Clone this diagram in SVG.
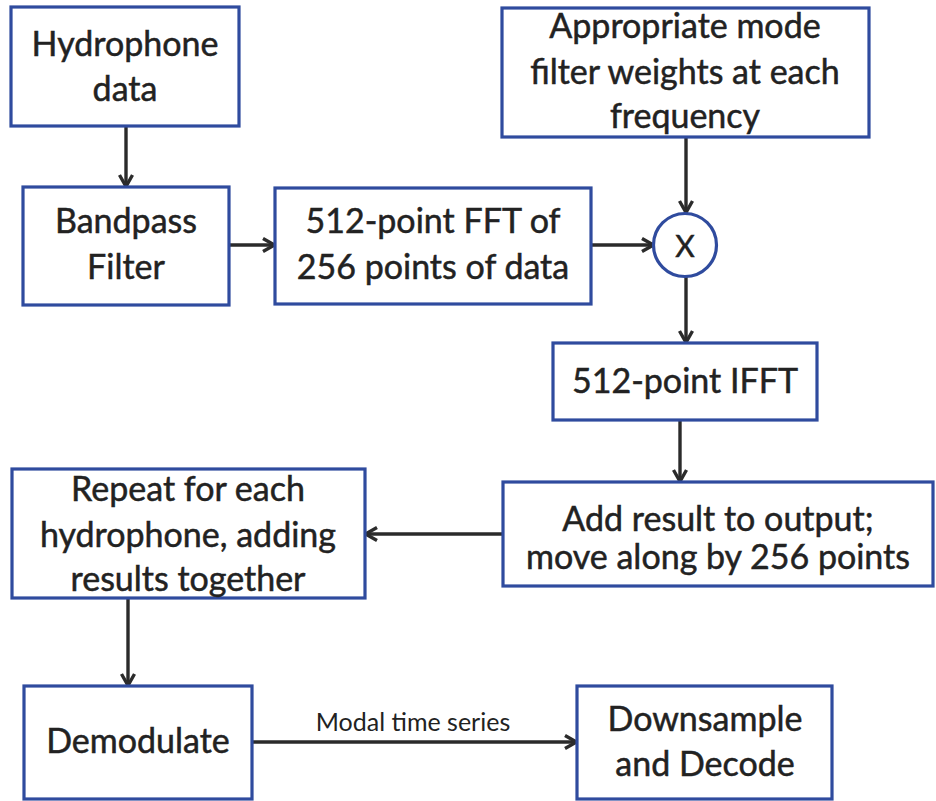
<svg xmlns="http://www.w3.org/2000/svg" width="936" height="801" viewBox="0 0 936 801">
<defs>
<marker id="ah" markerWidth="16" markerHeight="16" refX="13" refY="8" orient="auto" markerUnits="userSpaceOnUse" viewBox="0 0 16 16">
<path d="M2,1.5 L13.5,8 L2,14.5" fill="none" stroke="#2b2b2b" stroke-width="3.4"/>
</marker>
<style>
.box{fill:#fff;stroke:#2f4b9e;stroke-width:3.2}
.t{font-family:Lato,"Open Sans",sans-serif;font-size:34px;fill:#222;text-anchor:middle;stroke:#222;stroke-width:0.5}
.c{fill:none;stroke:#2b2b2b;stroke-width:3.4;marker-end:url(#ah)}
.lbl{font-family:Lato,"Open Sans",sans-serif;font-size:25px;fill:#222;text-anchor:middle}
</style>
</defs>
<rect width="936" height="801" fill="#fff"/>
<g id="connectors">
<line class="c" x1="126" y1="126" x2="126" y2="186"/>
<line class="c" x1="229" y1="245" x2="274" y2="245"/>
<line class="c" x1="591" y1="245" x2="653" y2="245"/>
<line class="c" x1="686" y1="137" x2="686" y2="212"/>
<line class="c" x1="686" y1="277" x2="686" y2="342"/>
<line class="c" x1="680" y1="420" x2="680" y2="481"/>
<line class="c" x1="503" y1="534" x2="366" y2="534"/>
<line class="c" x1="128" y1="598" x2="128" y2="685"/>
<line class="c" x1="252" y1="742" x2="576" y2="742"/>
<text class="lbl" x="413" y="731">Modal time series</text>
</g>
<g id="hydrophone">
<rect class="box" x="11" y="7" width="228" height="119"/>
<text class="t" x="125" y="56">Hydrophone</text>
<text class="t" x="125" y="101">data</text>
</g>
<g id="bandpass">
<rect class="box" x="23" y="187" width="206" height="118"/>
<text class="t" x="126" y="233">Bandpass</text>
<text class="t" x="126" y="279">Filter</text>
</g>
<g id="fft">
<rect class="box" x="275" y="188" width="316" height="116"/>
<text class="t" x="433" y="233">512-point FFT of</text>
<text class="t" x="433" y="279">256 points of data</text>
</g>
<g id="weights">
<rect class="box" x="502" y="8" width="367" height="129"/>
<text class="t" x="685" y="38">Appropriate mode</text>
<text class="t" x="685" y="84">filter weights at each</text>
<text class="t" x="685" y="128">frequency</text>
</g>
<g id="multiply">
<circle cx="685" cy="245" r="31.5" fill="#fff" stroke="#2f4b9e" stroke-width="3.2"/>
<text class="t" x="685" y="257" style="font-size:30px">X</text>
</g>
<g id="ifft">
<rect class="box" x="553" y="343" width="264" height="77"/>
<text class="t" x="685" y="393">512-point IFFT</text>
</g>
<g id="add">
<rect class="box" x="503" y="482" width="430" height="104"/>
<text class="t" x="718" y="531">Add result to output;</text>
<text class="t" x="718" y="569">move along by 256 points</text>
</g>
<g id="repeat">
<rect class="box" x="12" y="469" width="353" height="129"/>
<text class="t" x="188" y="501">Repeat for each</text>
<text class="t" x="188" y="547">hydrophone, adding</text>
<text class="t" x="188" y="591">results together</text>
</g>
<g id="demodulate">
<rect class="box" x="24" y="686" width="228" height="113"/>
<text class="t" x="138" y="753">Demodulate</text>
</g>
<g id="downsample">
<rect class="box" x="577" y="686" width="255" height="113"/>
<text class="t" x="705" y="731">Downsample</text>
<text class="t" x="705" y="776">and Decode</text>
</g>
</svg>
